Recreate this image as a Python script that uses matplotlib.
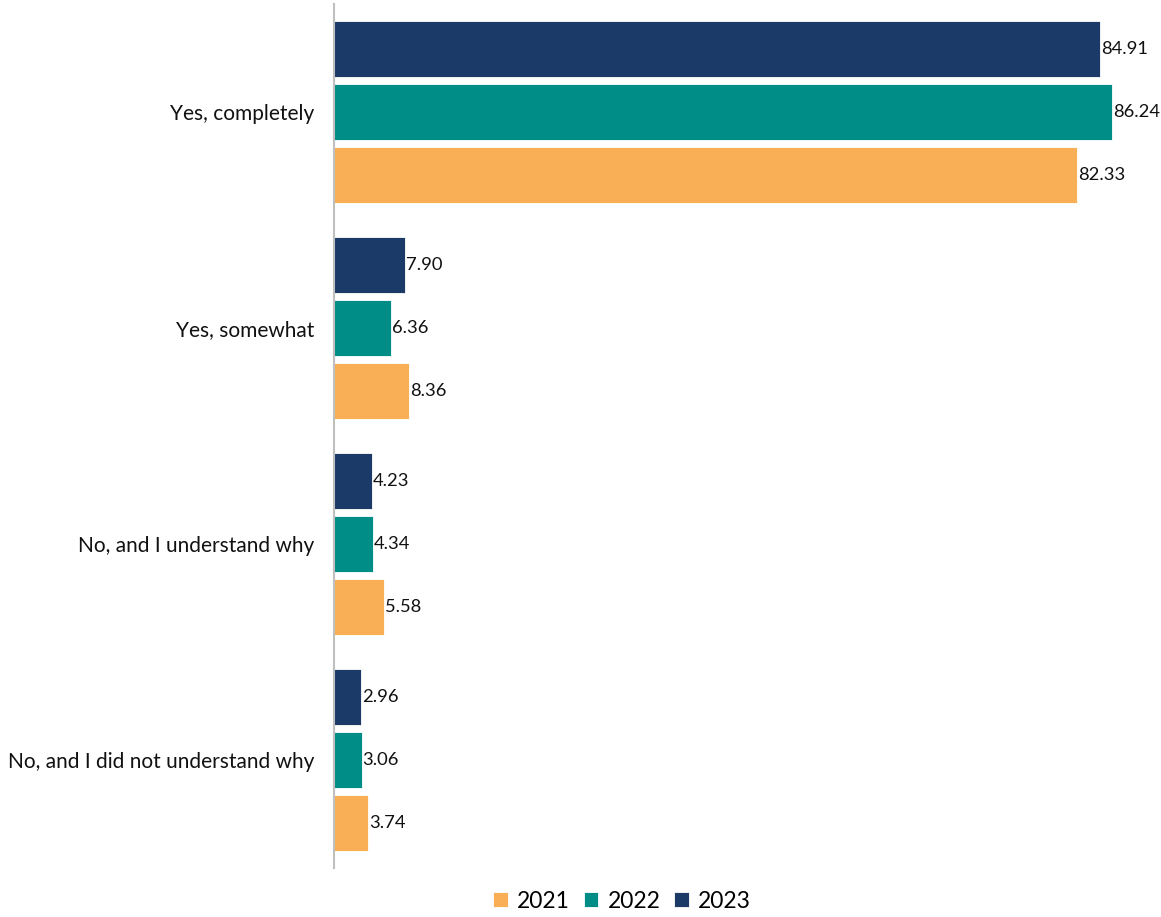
import matplotlib
matplotlib.use("Agg")
import matplotlib.pyplot as plt
from matplotlib import font_manager
import numpy as np

# Survey responses by year (percent)
categories = ["Yes, completely", "Yes, somewhat", "No, and I understand why",
              "No, and I did not understand why"]
years = ["2021", "2022", "2023"]
values_2021 = [82.33, 8.36, 5.58, 3.74]
values_2022 = [86.24, 6.36, 4.34, 3.06]
values_2023 = [84.91, 7.90, 4.23, 2.96]

colors = {"2021": "#F9AF55", "2022": "#008C87", "2023": "#1B3A68"}

installed = {f.name for f in font_manager.fontManager.ttflist}
family = "Liberation Sans Narrow" if "Liberation Sans Narrow" in installed else "Lato"
plt.rcParams["font.family"] = [family, "DejaVu Sans"]

fig = plt.figure(figsize=(11.61, 9.17), dpi=100)
ax = fig.add_axes([334 / 1161, 1 - 868 / 917, 1 - 334 / 1161, 864 / 917])

y = np.arange(len(categories))
pitch = 63 / 216
height = 56 / 216
series = {"2021": values_2021, "2022": values_2022, "2023": values_2023}
offsets = {"2023": -pitch, "2022": 0.0, "2021": pitch}

for yr in years:
    vals = series[yr]
    bars = ax.barh(y + offsets[yr], vals, height=height, color=colors[yr],
                   edgecolor="white", linewidth=0.6, label=yr, zorder=2)
    for rect, v in zip(bars, vals):
        ax.text(rect.get_width() + 0.12, rect.get_y() + rect.get_height() / 2,
                f"{v:.2f}", va="center", ha="left", fontsize=13.2, color="#111111")

ax.set_xlim(0, 827 / 9.02)
ax.set_ylim(len(categories) - 0.5, -0.5)
ax.set_yticks(y)
ax.set_yticklabels(categories, fontsize=15, color="#111111")
ax.tick_params(axis="y", length=0, pad=14)
ax.set_xticks([])
for s in ["top", "right", "bottom"]:
    ax.spines[s].set_visible(False)
ax.spines["left"].set_color("#BFBFBF")
ax.spines["left"].set_linewidth(1.5)

handles, labels = ax.get_legend_handles_labels()
fig.legend(handles, labels, loc="center", bbox_to_anchor=(622 / 1161, 1 - 901 / 917),
           ncol=3, frameon=False, fontsize=16.5, handlelength=0.65, handleheight=0.65,
           handletextpad=0.4, columnspacing=0.6)

fig.savefig("out.png", dpi=100)
